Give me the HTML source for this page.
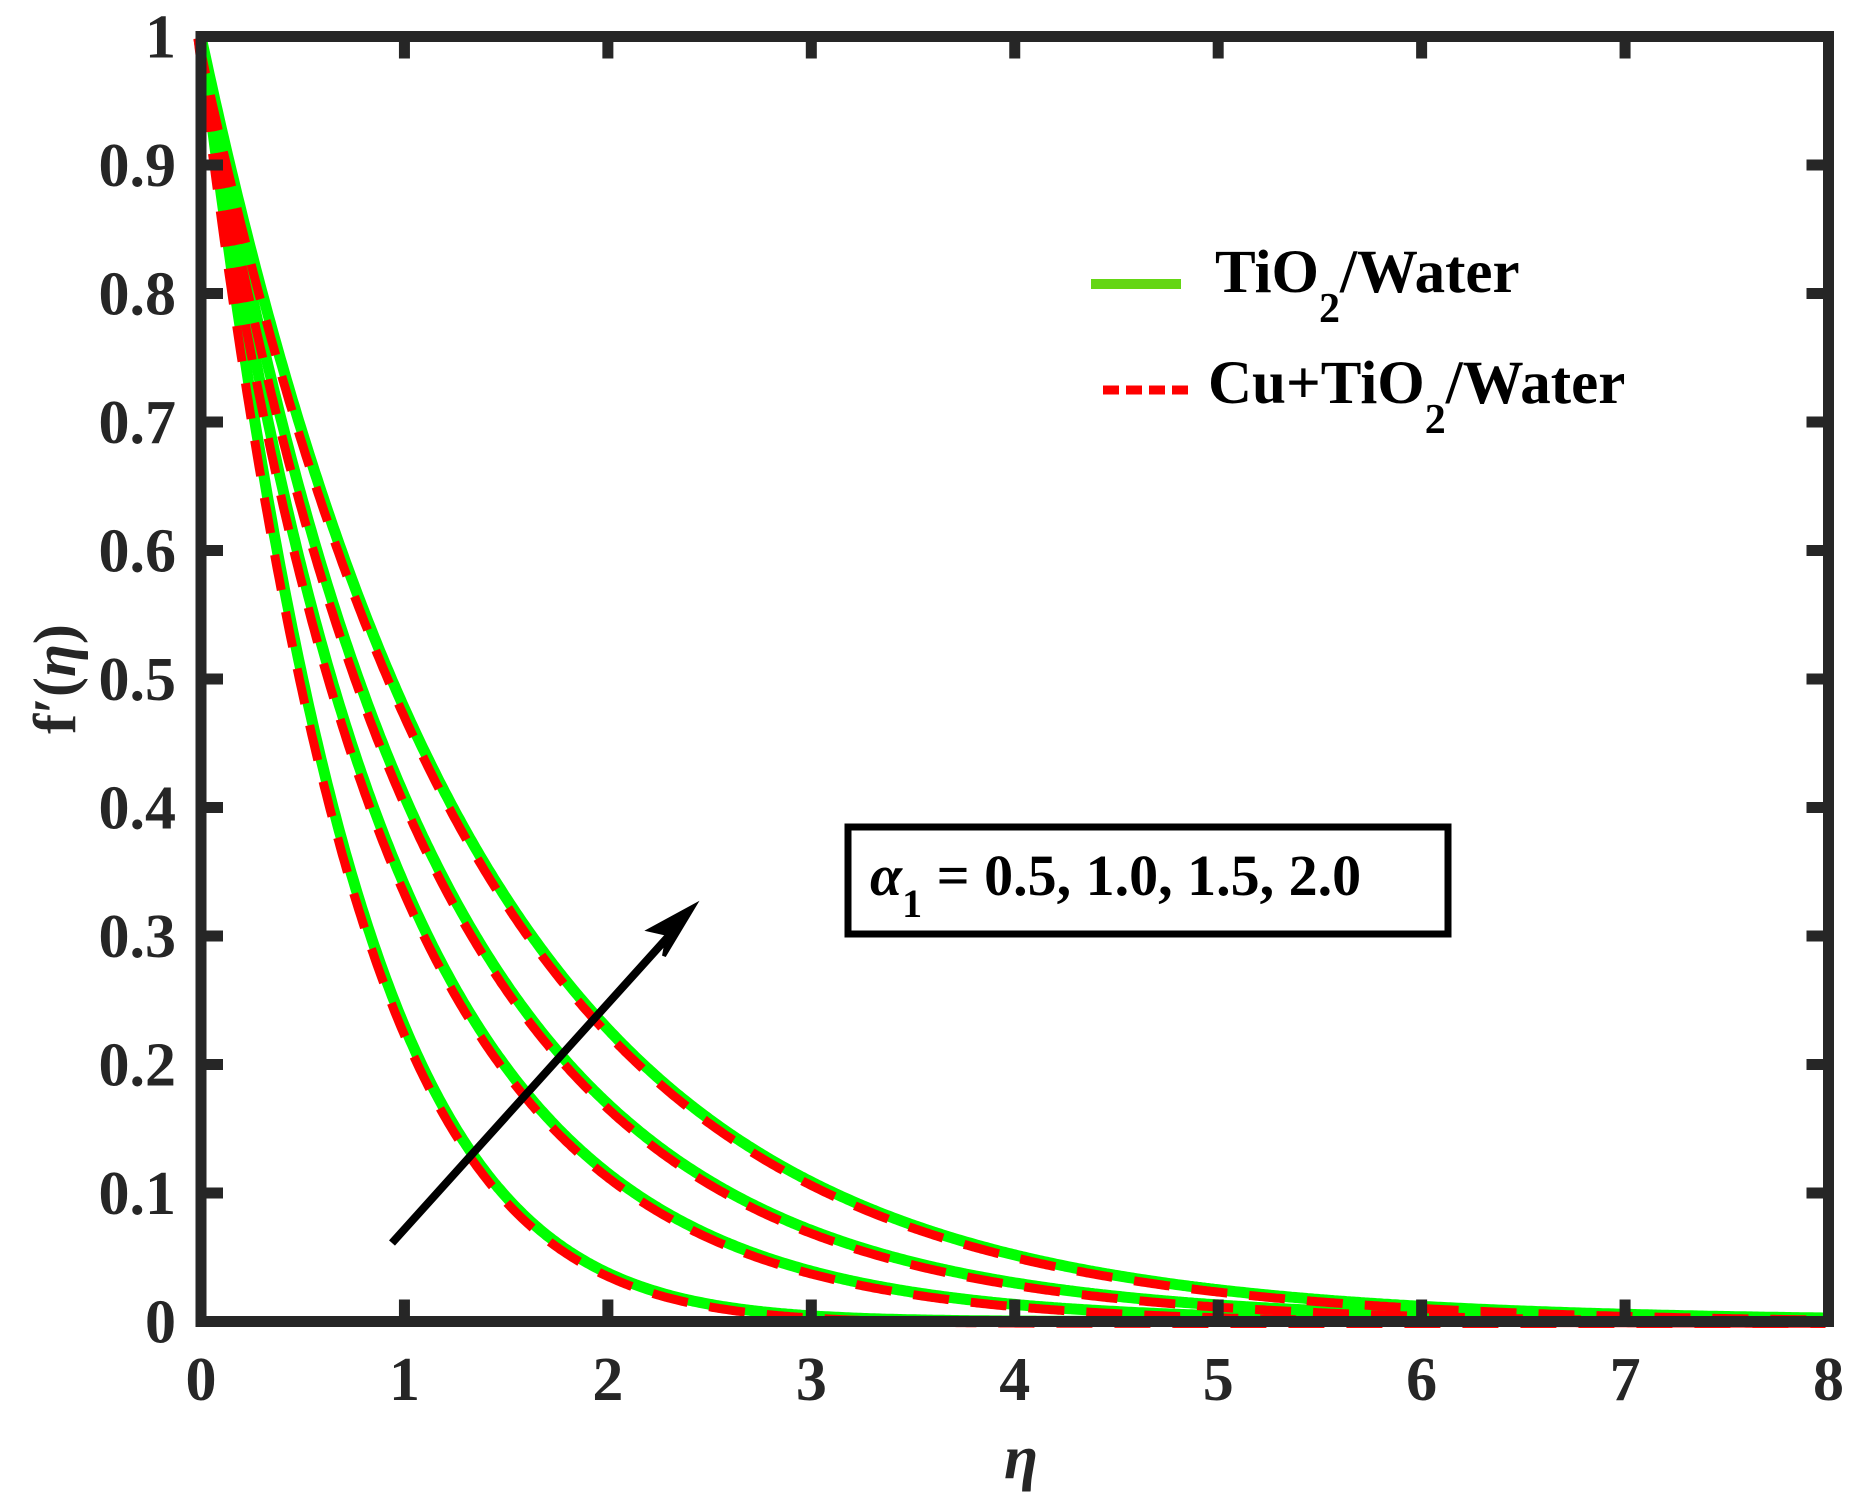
<!DOCTYPE html>
<html><head><meta charset="utf-8">
<style>
html,body{margin:0;padding:0;background:#fff;}
svg{display:block;}
text{font-family:"Liberation Serif","Times New Roman",serif;font-weight:bold;fill:#262626;}
</style></head>
<body>
<svg id="s" width="1868" height="1510" viewBox="0 0 1868 1510" xmlns="http://www.w3.org/2000/svg">
<g id="curves"></g>
<g id="axes" fill="none" stroke="#262626"></g>
<g id="labels"></g>
<line x1="392" y1="1243" x2="676" y2="928" stroke="#000" stroke-width="8"/>
<polygon points="694,906 650,930 668,934 664,956" fill="#000" stroke="#000" stroke-width="4"/>
<rect x="848" y="827" width="600" height="107" fill="#fff" stroke="#000" stroke-width="7"/>
<text x="870" y="895" font-size="58" style="fill:#000"><tspan font-style="italic">α</tspan><tspan font-size="40" dy="22">1</tspan><tspan dy="-22"> = 0.5, 1.0, 1.5, 2.0</tspan></text>
<line x1="1091" y1="284" x2="1181" y2="284" stroke="#64d614" stroke-width="10"/>
<text x="1215" y="292" font-size="61" style="fill:#000">TiO<tspan font-size="42" dy="30">2</tspan><tspan dy="-30">/Water</tspan></text>
<line x1="1103" y1="390" x2="1191" y2="390" stroke="#ff0000" stroke-width="9" stroke-dasharray="16,7"/>
<text x="1208" y="403" font-size="61" style="fill:#000">Cu+TiO<tspan font-size="42" dy="30">2</tspan><tspan dy="-30">/Water</tspan></text>
<text x="1021" y="1478" font-size="62" font-style="italic" text-anchor="middle">η</text>
<text transform="translate(75,679) rotate(-90)" font-size="60" text-anchor="middle">f′(<tspan font-style="italic">η</tspan>)</text>
</svg>
<script>
var X0=201,X1=1828.5,Y0=1321.5,Y1=36.5;
function px(e){return X0+e*(X1-X0)/8;}
function py(v){return Y0-v*(Y0-Y1);}
var fs=[
function(e){return Math.exp(-(1.3*e+0.17*e*e));},
function(e){return Math.exp(-1.08*e);},
function(e){return Math.exp(-(0.9*e-0.006*e*e));},
function(e){return Math.exp(-0.74*e);}
];
var g=document.getElementById('curves'),html='';
var paths=fs.map(function(f){var s='';for(var i=0;i<=800;i++){var e=i/100;s+=(i?'L':'M')+px(e).toFixed(1)+','+py(f(e)).toFixed(1);}return s;});
paths.forEach(function(p){html+='<path d="'+p+'" fill="none" stroke="#00ff00" stroke-width="11"/>';});
paths.forEach(function(p){html+='<path d="'+p+'" fill="none" stroke="#ff0000" stroke-width="9" stroke-dasharray="36,22" transform="translate(-3,2)"/>';});
g.innerHTML=html;
var a='<rect x="'+X0+'" y="'+Y1+'" width="'+(X1-X0)+'" height="'+(Y0-Y1)+'" stroke-width="11"/>';
for(var i=1;i<8;i++){var x=px(i);a+='<line x1="'+x+'" y1="'+Y0+'" x2="'+x+'" y2="'+(Y0-22)+'" stroke-width="11"/><line x1="'+x+'" y1="'+Y1+'" x2="'+x+'" y2="'+(Y1+22)+'" stroke-width="11"/>';}
for(i=1;i<10;i++){var y=py(i/10);a+='<line x1="'+X0+'" y1="'+y+'" x2="'+(X0+22)+'" y2="'+y+'" stroke-width="11"/><line x1="'+X1+'" y1="'+y+'" x2="'+(X1-22)+'" y2="'+y+'" stroke-width="11"/>';}
document.getElementById('axes').innerHTML=a;
var l='';
for(i=0;i<=8;i++)l+='<text x="'+px(i)+'" y="1400" font-size="62" text-anchor="middle">'+i+'</text>';
for(i=0;i<=10;i++){var t=i==0?'0':i==10?'1':'0.'+i;l+='<text x="176" y="'+(py(i/10)+21)+'" font-size="62" text-anchor="end">'+t+'</text>';}
document.getElementById('labels').innerHTML=l;
</script>
</body></html>
